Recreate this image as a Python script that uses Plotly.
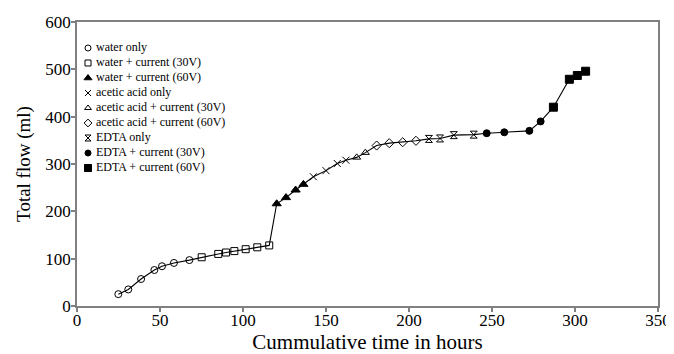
import plotly.graph_objects as go

# ---- data ----
water_only_x = [24.9, 30.9, 38.6, 46.6, 51.2, 58.4, 67.7]
water_only_y = [25, 35, 57, 76, 84, 91, 97]
water_30_x = [75.1, 85.1, 89.8, 94.8, 101.6, 108.6, 115.8]
water_30_y = [103, 110, 113, 116, 120, 124, 128]
water_60_x = [120.3, 125.9, 131.7, 136.4]
water_60_y = [216, 229, 245, 257]
acetic_only_x = [142.4, 150.0, 156.8, 162.0]
acetic_only_y = [273, 286, 301, 308]
acetic_30_x = [168.5, 173.7]
acetic_30_y = [314, 324]
acetic_60_x = [180.5, 188.1, 196.2, 204.2]
acetic_60_y = [339, 344, 346, 349]
edta_only_x = [212.0, 218.7, 227.0, 239.0]
edta_only_y = [353, 354, 361, 362]
edta_30_x = [246.8, 257.4, 272.5, 279.3]
edta_30_y = [365, 367, 370, 390]
edta_60_x = [287.0, 296.6, 301.4, 306.4]
edta_60_y = [420, 479, 487, 496]

series_names = ["water only", "water + current (30V)", "water + current (60V)",
                "acetic acid only", "acetic acid + current (30V)", "acetic acid + current (60V)",
                "EDTA only", "EDTA + current (30V)", "EDTA + current (60V)"]
series_x = [water_only_x, water_30_x, water_60_x, acetic_only_x, acetic_30_x,
            acetic_60_x, edta_only_x, edta_30_x, edta_60_x]
series_y = [water_only_y, water_30_y, water_60_y, acetic_only_y, acetic_30_y,
            acetic_60_y, edta_only_y, edta_30_y, edta_60_y]

symbols = ["circle-open", "square-open", "triangle-up", "x-thin-open", "triangle-up-open",
           "diamond-open", "hourglass-open", "circle", "square"]
sizes = [7, 7, 8, 7, 7, 7, 7, 7, 8]

all_x = [v for s in series_x for v in s]
all_y = [v for s in series_y for v in s]

# page body has an 8px margin, so the figure is drawn 8px smaller with shifted margins
W, H = 666, 346
ML, MR, MT, MB = 69, 16, 14, 48

fig = go.Figure()
fig.add_trace(go.Scatter(x=all_x, y=all_y, mode="lines",
                         line=dict(color="black", width=1.1), showlegend=False,
                         hoverinfo="skip"))
for name, xs, ys, sym, sz in zip(series_names, series_x, series_y, symbols, sizes):
    fig.add_trace(go.Scatter(
        x=xs, y=ys, mode="markers", name=name, showlegend=False,
        marker=dict(symbol=sym, size=sz, color="black",
                    line=dict(color="black", width=1)),
    ))

# ---- manual legend on an overlay axis (fixed 0..1 frame) ----
plot_w = W - ML - MR
plot_h = H - MT - MB
leg_top_px = 26
leg_step_px = 15
mk_x = 11 / plot_w
tx_x = 19 / plot_w
for i, (name, sym, sz) in enumerate(zip(series_names, symbols, sizes)):
    yy = 1 - (leg_top_px + i * leg_step_px) / plot_h
    fig.add_trace(go.Scatter(
        x=[mk_x], y=[yy], xaxis="x2", yaxis="y2", mode="markers",
        marker=dict(symbol=sym, size=sz - 1, color="black",
                    line=dict(color="black", width=1)),
        showlegend=False, hoverinfo="skip", cliponaxis=False,
    ))
    fig.add_trace(go.Scatter(
        x=[tx_x], y=[yy], xaxis="x2", yaxis="y2", mode="text",
        text=[name], textposition="middle right",
        textfont=dict(family="Liberation Serif", size=12, color="black"),
        showlegend=False, hoverinfo="skip", cliponaxis=False,
    ))

axis_common = dict(showline=True, linecolor="#808080", linewidth=1.5, mirror=True,
                   ticks="outside", tickcolor="#808080", ticklen=4, tickwidth=1.5,
                   showgrid=False, zeroline=False, automargin=False,
                   tickfont=dict(family="Liberation Serif", size=17, color="black"))

fig.update_layout(
    width=W, height=H,
    margin=dict(l=ML, r=MR, t=MT, b=MB),
    paper_bgcolor="white", plot_bgcolor="white",
    font=dict(family="Liberation Serif", color="black"),
    showlegend=False,
    xaxis=dict(range=[0, 350], dtick=50, tick0=0, ticklabelstandoff=-6,
               title=dict(text="Cummulative time in hours",
                          font=dict(family="Liberation Serif", size=21), standoff=2),
               **axis_common),
    yaxis=dict(range=[0, 600], dtick=100, tick0=0, ticklabelstandoff=-3,
               title=dict(text="Total flow (ml)",
                          font=dict(family="Liberation Serif", size=19), standoff=10),
               **axis_common),
    xaxis2=dict(range=[0, 1], overlaying="x", visible=False, fixedrange=True),
    yaxis2=dict(range=[0, 1], overlaying="y", visible=False, fixedrange=True),
)

fig.write_html("out.html")
